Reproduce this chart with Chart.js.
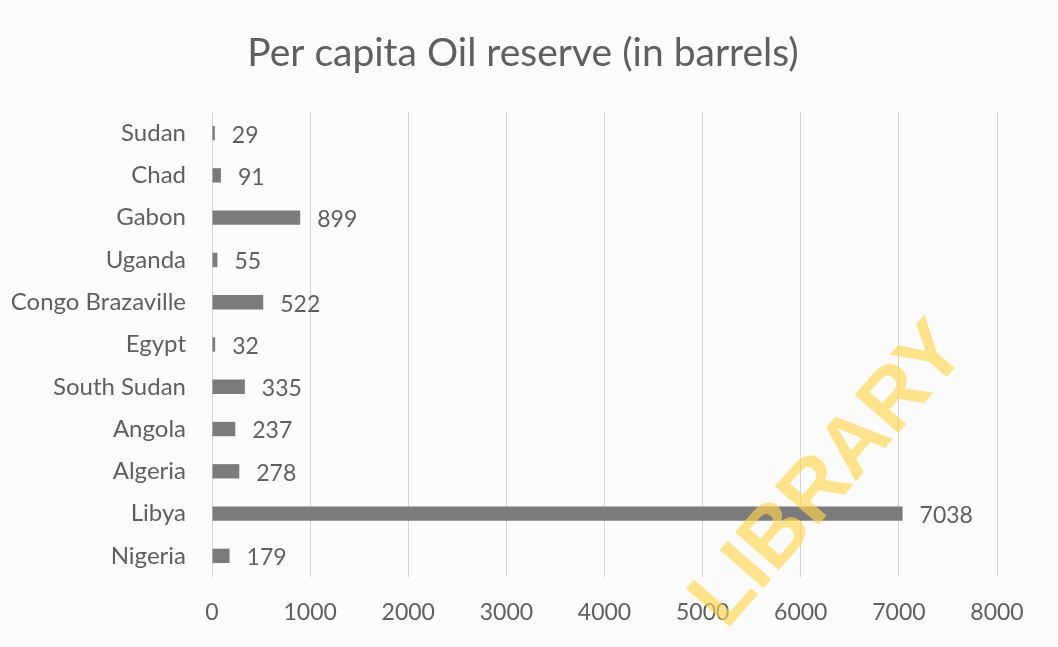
<!DOCTYPE html>
<html>
<head>
<meta charset="utf-8">
<script src="https://cdn.jsdelivr.net/npm/chart.js"></script>
<style>
  html, body { margin: 0; padding: 0; background: #fcfcfc; }
  #wrap { width: 1058px; height: 647px; }
</style>
</head>
<body>
<div id="wrap"><canvas id="oilChart" width="1058" height="647"></canvas></div>
<script>
// Countries, top to bottom as in the picture
const countries = ["Sudan", "Chad", "Gabon", "Uganda", "Congo Brazaville", "Egypt",
    "South Sudan", "Angola", "Algeria", "Libya", "Nigeria"];
// Per capita oil reserve (barrels)
const reserves = [29, 91, 899, 55, 522, 32, 335, 237, 278, 7038, 179];
const xTicks = [0, 1000, 2000, 3000, 4000, 5000, 6000, 7000, 8000];
const chartTitle = "Per capita Oil reserve (in barrels)";

const textColor = "#5f5f5f";
const fontName = "Lato, 'Open Sans', sans-serif";

// title sits a little right of the canvas centre, like the original
const titleText = {
    id: "titleText",
    afterDraw(chart) {
        const ctx = chart.ctx;
        ctx.save();
        ctx.font = "39px " + fontName;
        ctx.fillStyle = textColor;
        ctx.textAlign = "center";
        ctx.textBaseline = "middle";
        ctx.fillText(chartTitle, 523, 53);
        ctx.restore();
    }
};

// draws the value next to each bar
const valueLabels = {
    id: "valueLabels",
    afterDatasetsDraw(chart) {
        const ctx = chart.ctx;
        const meta = chart.getDatasetMeta(0);
        ctx.save();
        ctx.font = "23px " + fontName;
        ctx.fillStyle = textColor;
        ctx.textAlign = "left";
        ctx.textBaseline = "middle";
        meta.data.forEach(function (bar, i) {
            ctx.fillText(reserves[i], bar.x + 17, bar.y + 2);
        });
        ctx.restore();
    }
};

// library stamp across the scan
const watermark = {
    id: "watermark",
    afterDraw(chart) {
        const ctx = chart.ctx;
        ctx.save();
        ctx.translate(830, 476);
        ctx.rotate(-49 * Math.PI / 180);
        ctx.font = "bold 84px 'Liberation Sans Narrow', 'Liberation Sans', sans-serif";
        ctx.fillStyle = "rgba(255, 214, 80, 0.65)";
        ctx.textAlign = "center";
        ctx.textBaseline = "middle";
        ctx.fillText("LIBRARY", 0, 0);
        ctx.restore();
    }
};

const ctx = document.getElementById("oilChart").getContext("2d");
const oilChart = new Chart(ctx, {
    type: "bar",
    data: {
        labels: countries,
        datasets: [{
            label: chartTitle,
            data: reserves,
            backgroundColor: "#7b7b7b",
            borderWidth: 0,
            barPercentage: 0.34,
            categoryPercentage: 1.0
        }]
    },
    options: {
        indexAxis: "y",
        responsive: false,
        animation: false,
        layout: { padding: { left: 10, right: 61, top: 112, bottom: 0 } },
        plugins: {
            legend: { display: false },
            tooltip: { enabled: false },
            title: { display: false }
        },
        scales: {
            x: {
                min: 0,
                max: 8000,
                afterBuildTicks(axis) {
                    axis.ticks = xTicks.map(function (v) { return { value: v }; });
                },
                afterFit(axis) { axis.height = 70; },
                grid: { color: "#d4d4d4", lineWidth: 1, drawTicks: false },
                border: { display: false },
                ticks: {
                    color: textColor,
                    font: { family: fontName, size: 23 },
                    padding: 22,
                    callback: function (v) { return String(v); }
                }
            },
            y: {
                afterFit(axis) { axis.width = 202; },
                grid: { display: false, drawTicks: false },
                border: { display: false },
                ticks: {
                    color: textColor,
                    font: { family: fontName, size: 24 },
                    padding: 26
                }
            }
        }
    },
    plugins: [titleText, valueLabels, watermark]
});
</script>
</body>
</html>
